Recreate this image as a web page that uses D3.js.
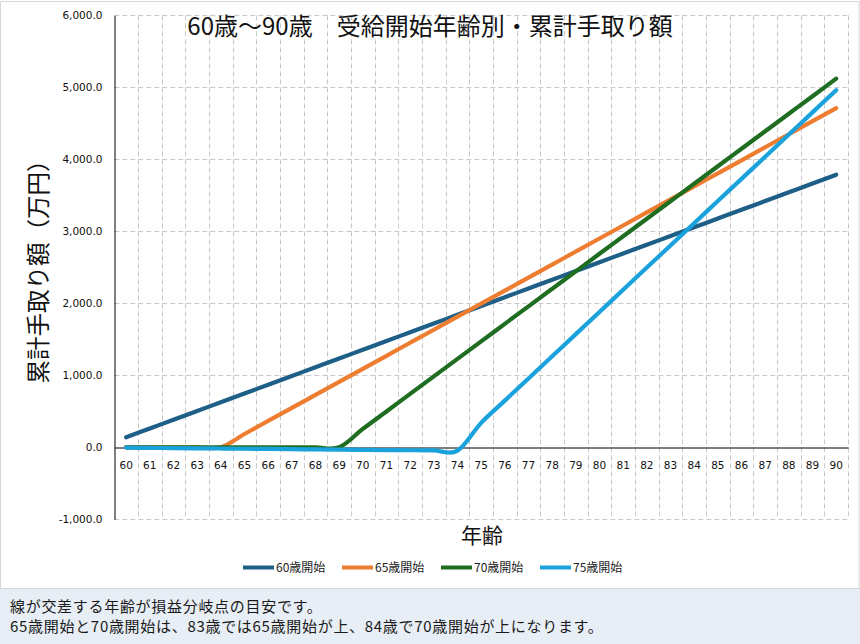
<!DOCTYPE html>
<html>
<head>
<meta charset="utf-8">
<script src="https://cdn.jsdelivr.net/npm/d3@7"></script>
<style>
  html, body { margin: 0; padding: 0; background: #ffffff; }
  svg { display: block; }
</style>
</head>
<body>
<svg id="chart" width="860" height="644"></svg>
<script>
// ---- data ----
const ages = [60,61,62,63,64,65,66,67,68,69,70,71,72,73,74,75,76,77,78,79,80,81,82,83,84,85,86,87,88,89,90];
const seriesNames = ["60歳開始", "65歳開始", "70歳開始", "75歳開始"];
const start60 = [140,261,383,504,626,747,869,990,1112,1233,1355,1476,1598,1719,1841,1962,2084,2205,2327,2448,2570,2691,2813,2934,3056,3177,3299,3420,3542,3663,3785];
const start65 = [0,0,0,0,0,185,366,547,728,909,1090,1271,1452,1633,1814,1995,2176,2357,2538,2719,2900,3081,3262,3443,3624,3805,3986,4167,4348,4529,4710];
const start70 = [0,0,0,0,0,0,0,0,0,0,255,498,742,985,1228,1471,1715,1958,2201,2444,2688,2931,3174,3417,3660,3904,4147,4390,4633,4876,5120];
const start75 = [-5,-8,-11,-14,-17,-20,-23,-26,-29,-32,-35,-38,-41,-44,-47,340,648,956,1264,1572,1880,2188,2496,2804,3112,3420,3728,4036,4344,4652,4960];
const yTicks = [-1000,0,1000,2000,3000,4000,5000,6000];
const titleText = "60歳～90歳　受給開始年齢別・累計手取り額";
const yTitle = "累計手取り額（万円）";
const xTitle = "年齢";
const noteLines = ["線が交差する年齢が損益分岐点の目安です。",
                   "65歳開始と70歳開始は、83歳では65歳開始が上、84歳で70歳開始が上になります。"];
const colors = ["#1d5f86", "#ed7d31", "#1f6d21", "#1aa2dc"];

const allSeries = [start60, start65, start70, start75];

// ---- layout ----
const svg = d3.select("#chart");
const W = 860, H = 644;
const plot = { left: 114.3, right: 848, top: 15.3, bottom: 519.3 };
const cjk = "'Noto Sans CJK JP', 'Noto Sans', sans-serif";
const numFont = "'DejaVu Sans', 'Noto Sans', sans-serif";
const locale = d3.formatLocale({ decimal: ".", thousands: ",", grouping: [3], currency: ["", ""], minus: "-" });

// chart background and frame
svg.append("rect").attr("x", 0).attr("y", 0).attr("width", W).attr("height", H).attr("fill", "#ffffff");
svg.append("rect").attr("x", 0.5).attr("y", 1.5).attr("width", W - 1.5).attr("height", 587)
  .attr("fill", "#ffffff").attr("stroke", "#d6d6d6").attr("stroke-width", 1);

// note panel
svg.append("rect").attr("x", 0).attr("y", 588).attr("width", W).attr("height", H - 588)
  .attr("fill", "#e8eef5");
svg.append("line").attr("x1", 0).attr("x2", W).attr("y1", 588.5).attr("y2", 588.5)
  .attr("stroke", "#cfd6de").attr("stroke-width", 1);

// scales
const x = d3.scaleBand().domain(ages).range([plot.left, plot.right]).paddingInner(0).paddingOuter(0);
const y = d3.scaleLinear().domain([-1000, 6000]).range([plot.bottom, plot.top]);
const cx = a => x(a) + x.bandwidth() / 2;

// gridlines
const grid = svg.append("g").attr("stroke", "#c9c9c9").attr("stroke-width", 1).attr("stroke-dasharray", "5,3");
grid.selectAll("line.h").data(yTicks.filter(v => v !== 0)).join("line")
  .attr("class", "h")
  .attr("x1", plot.left).attr("x2", plot.right)
  .attr("y1", d => Math.round(y(d)) + 0.5).attr("y2", d => Math.round(y(d)) + 0.5);
grid.selectAll("line.v").data(ages).join("line")
  .attr("class", "v")
  .attr("x1", d => Math.round(x(d) + x.bandwidth()) + 0.5)
  .attr("x2", d => Math.round(x(d) + x.bandwidth()) + 0.5)
  .attr("y1", plot.top).attr("y2", plot.bottom);

// y axis
const yAxis = svg.append("g")
  .attr("transform", `translate(${Math.round(plot.left) + 0.5},0)`)
  .call(d3.axisLeft(y).tickValues(yTicks).tickFormat(locale.format(",.1f")).tickSize(0).tickSizeOuter(0).tickPadding(12));
yAxis.select(".domain").attr("stroke", "#000").attr("stroke-width", 1);
yAxis.selectAll("text").attr("font-family", numFont).attr("font-size", "10.5px").attr("fill", "#111");

// x axis at zero line
const xAxis = svg.append("g")
  .attr("transform", `translate(0,${Math.round(y(0)) + 0.5})`)
  .call(d3.axisBottom(x).tickSize(0).tickSizeOuter(0).tickPadding(14));
xAxis.select(".domain").attr("stroke", "#000").attr("stroke-width", 1);
xAxis.selectAll("text").attr("font-family", numFont).attr("font-size", "10.5px").attr("fill", "#111");

// lines
const line = d3.line()
  .x((d, i) => cx(ages[i]))
  .y(d => y(d))
  .curve(d3.curveCatmullRom.alpha(0));

svg.append("g").selectAll("path").data(allSeries).join("path")
  .attr("d", d => line(d))
  .attr("fill", "none")
  .attr("stroke", (d, i) => colors[i])
  .attr("stroke-width", 4.2)
  .attr("stroke-linecap", "round")
  .attr("stroke-linejoin", "round");

// title
svg.append("text").attr("x", 430).attr("y", 35).attr("text-anchor", "middle")
  .attr("font-family", cjk).attr("font-size", "24px").attr("fill", "#111")
  .text(titleText);

// y title
svg.append("text").attr("transform", "translate(47,266) rotate(-90)").attr("text-anchor", "middle")
  .attr("font-family", cjk).attr("font-size", "23.5px").attr("fill", "#111")
  .text(yTitle);

// x title
svg.append("text").attr("x", 482).attr("y", 543).attr("text-anchor", "middle")
  .attr("font-family", cjk).attr("font-size", "21px").attr("fill", "#111")
  .text(xTitle);

// legend
const legendX = [243, 342, 441, 540];
const lg = svg.append("g");
seriesNames.forEach((name, i) => {
  lg.append("line").attr("x1", legendX[i]).attr("x2", legendX[i] + 31)
    .attr("y1", 567.5).attr("y2", 567.5)
    .attr("stroke", colors[i]).attr("stroke-width", 4);
  lg.append("text").attr("x", legendX[i] + 33).attr("y", 572)
    .attr("font-family", cjk).attr("font-size", "12px").attr("fill", "#222")
    .text(name);
});

// notes
svg.append("g").selectAll("text").data(noteLines).join("text")
  .attr("x", 10).attr("y", (d, i) => 612 + i * 20)
  .attr("font-family", cjk).attr("font-size", "15px").attr("letter-spacing", "0.7px").attr("fill", "#1a1a1a")
  .text(d => d);
</script>
</body>
</html>
